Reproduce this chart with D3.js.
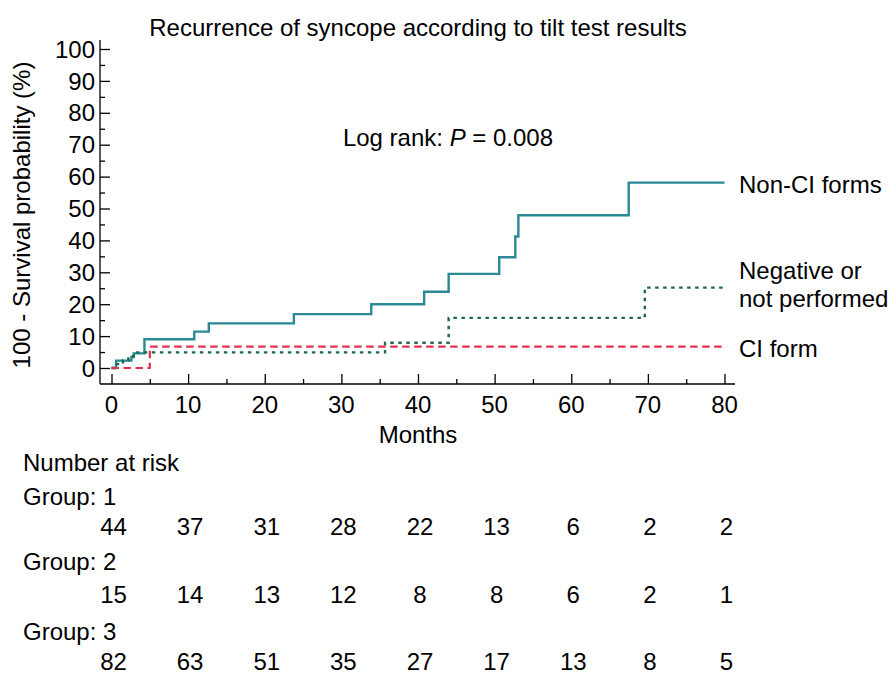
<!DOCTYPE html>
<html><head><meta charset="utf-8">
<script src="https://cdn.jsdelivr.net/npm/d3@7"></script>
<style>
html,body{margin:0;padding:0;background:#fff;}
text{font-family:"Liberation Sans",Arial,Helvetica,sans-serif;fill:#000;}
</style></head>
<body>
<svg id="c" width="890" height="675"></svg>
<script>
// ---- data ----
const xTicks = [0,10,20,30,40,50,60,70,80];
const yTicks = [0,10,20,30,40,50,60,70,80,90,100];
const seriesNames = ["Non-CI forms","Negative or not performed","CI form"];
const nonCITimes  = [0,0.6,2.6,2.9,4.3,10.8,12.7,23.8,33.9,40.8,44.0,50.6,52.7,53.1,67.5,80];
const nonCIValues = [0,2.3,3.4,4.6,9.0,11.4,14.0,16.9,20.0,23.9,29.5,34.7,41.2,47.9,58.1,58.1];
const negTimes    = [0,0.7,1.5,2.2,2.9,35.7,44.0,69.6,80];
const negValues   = [0,1.2,2.4,3.7,4.9,7.9,15.7,25.2,25.2];
const ciTimes     = [0,5.0,80];
const ciValues    = [0,6.7,6.7];
const riskTimes   = [0,10,20,30,40,50,60,70,80];
const riskGroup1  = [44,37,31,28,22,13,6,2,2];
const riskGroup2  = [15,14,13,12,8,8,6,2,1];
const riskGroup3  = [82,63,51,35,27,17,13,8,5];

const FS = "24px";
const svg = d3.select("#c");
const x = d3.scaleLinear().domain([0,80]).range([111.5,724.5]);
const y = d3.scaleLinear().domain([0,100]).range([368,49]);

// axes lines
svg.append("line").attr("x1",100).attr("x2",100).attr("y1",40).attr("y2",384).attr("stroke","#000").attr("stroke-width",1.3);
svg.append("line").attr("x1",100).attr("x2",735).attr("y1",384).attr("y2",384).attr("stroke","#000").attr("stroke-width",1.3);

// y ticks (inward)
const yMinor = d3.range(5,100,10);
const gy = svg.append("g").attr("transform","translate(100,0)").call(d3.axisRight(y).tickValues(yTicks).tickSize(10).tickFormat(""));
gy.select(".domain").remove();
gy.selectAll("line").attr("stroke","#000").attr("stroke-width",1.3);
const gym = svg.append("g").attr("transform","translate(100,0)").call(d3.axisRight(y).tickValues(yMinor).tickSize(5).tickFormat(""));
gym.select(".domain").remove();
gym.selectAll("line").attr("stroke","#000").attr("stroke-width",1.3);
svg.selectAll(".ylab").data(yTicks).enter().append("text")
  .attr("x",95).attr("y",d=>y(d)).attr("dy","0.36em").attr("text-anchor","end")
  .style("font-size",FS).text(d=>d);

// x ticks (upward)
const xMinor = d3.range(5,80,10);
const gx = svg.append("g").attr("transform","translate(0,384)").call(d3.axisTop(x).tickValues(xTicks).tickSize(10).tickFormat(""));
gx.select(".domain").remove();
gx.selectAll("line").attr("stroke","#000").attr("stroke-width",1.3);
const gxm = svg.append("g").attr("transform","translate(0,384)").call(d3.axisTop(x).tickValues(xMinor).tickSize(5).tickFormat(""));
gxm.select(".domain").remove();
gxm.selectAll("line").attr("stroke","#000").attr("stroke-width",1.3);
svg.selectAll(".xlab").data(xTicks).enter().append("text")
  .attr("x",d=>x(d)).attr("y",413).attr("text-anchor","middle")
  .style("font-size",FS).text(d=>d);

// titles
svg.append("text").attr("x",418).attr("y",36).attr("text-anchor","middle").style("font-size",FS)
  .text("Recurrence of syncope according to tilt test results");
svg.append("text").attr("x",418).attr("y",443).attr("text-anchor","middle").style("font-size",FS).text("Months");
svg.append("text").attr("transform","translate(30,215) rotate(-90)").attr("text-anchor","middle").style("font-size",FS)
  .text("100 - Survival probability (%)");
const lr = svg.append("text").attr("x",448).attr("y",146).attr("text-anchor","middle").style("font-size",FS);
lr.append("tspan").text("Log rank: ");
lr.append("tspan").style("font-style","italic").text("P");
lr.append("tspan").text(" = 0.008");

// curves
const line = d3.line().x(d=>x(d[0])).y(d=>y(d[1])).curve(d3.curveStepAfter);
const zip = (t,v)=>t.map((d,i)=>[d,v[i]]);
svg.append("path").attr("d",line(zip(nonCITimes,nonCIValues))).attr("fill","none")
  .attr("stroke","#2a8995").attr("stroke-width",2.4);
svg.append("path").attr("d",line(zip(negTimes,negValues))).attr("fill","none")
  .attr("stroke","#1e6a50").attr("stroke-width",2.4).attr("stroke-dasharray","3.5,4.5");
svg.append("path").attr("d",line(zip(ciTimes,ciValues))).attr("fill","none")
  .attr("stroke","#e3304f").attr("stroke-width",2.2).attr("stroke-dasharray","7.5,4.5");

// right labels
const rl = [[seriesNames[0],193],["Negative or",279],["not performed",307],[seriesNames[2],357]];
svg.selectAll(".rl").data(rl).enter().append("text").attr("x",739).attr("y",d=>d[1])
  .style("font-size",FS).text(d=>d[0]);

// number at risk
svg.append("text").attr("x",23).attr("y",471).style("font-size",FS).text("Number at risk");
const groups = [["Group: 1",riskGroup1,505,535],["Group: 2",riskGroup2,570,603],["Group: 3",riskGroup3,640,670]];
groups.forEach(g=>{
  svg.append("text").attr("x",23).attr("y",g[2]).style("font-size",FS).text(g[0]);
  svg.selectAll(null).data(g[1]).enter().append("text")
    .attr("x",(d,i)=>x(riskTimes[i])+2).attr("y",g[3]).attr("text-anchor","middle")
    .style("font-size",FS).text(d=>d);
});
</script>
</body></html>
